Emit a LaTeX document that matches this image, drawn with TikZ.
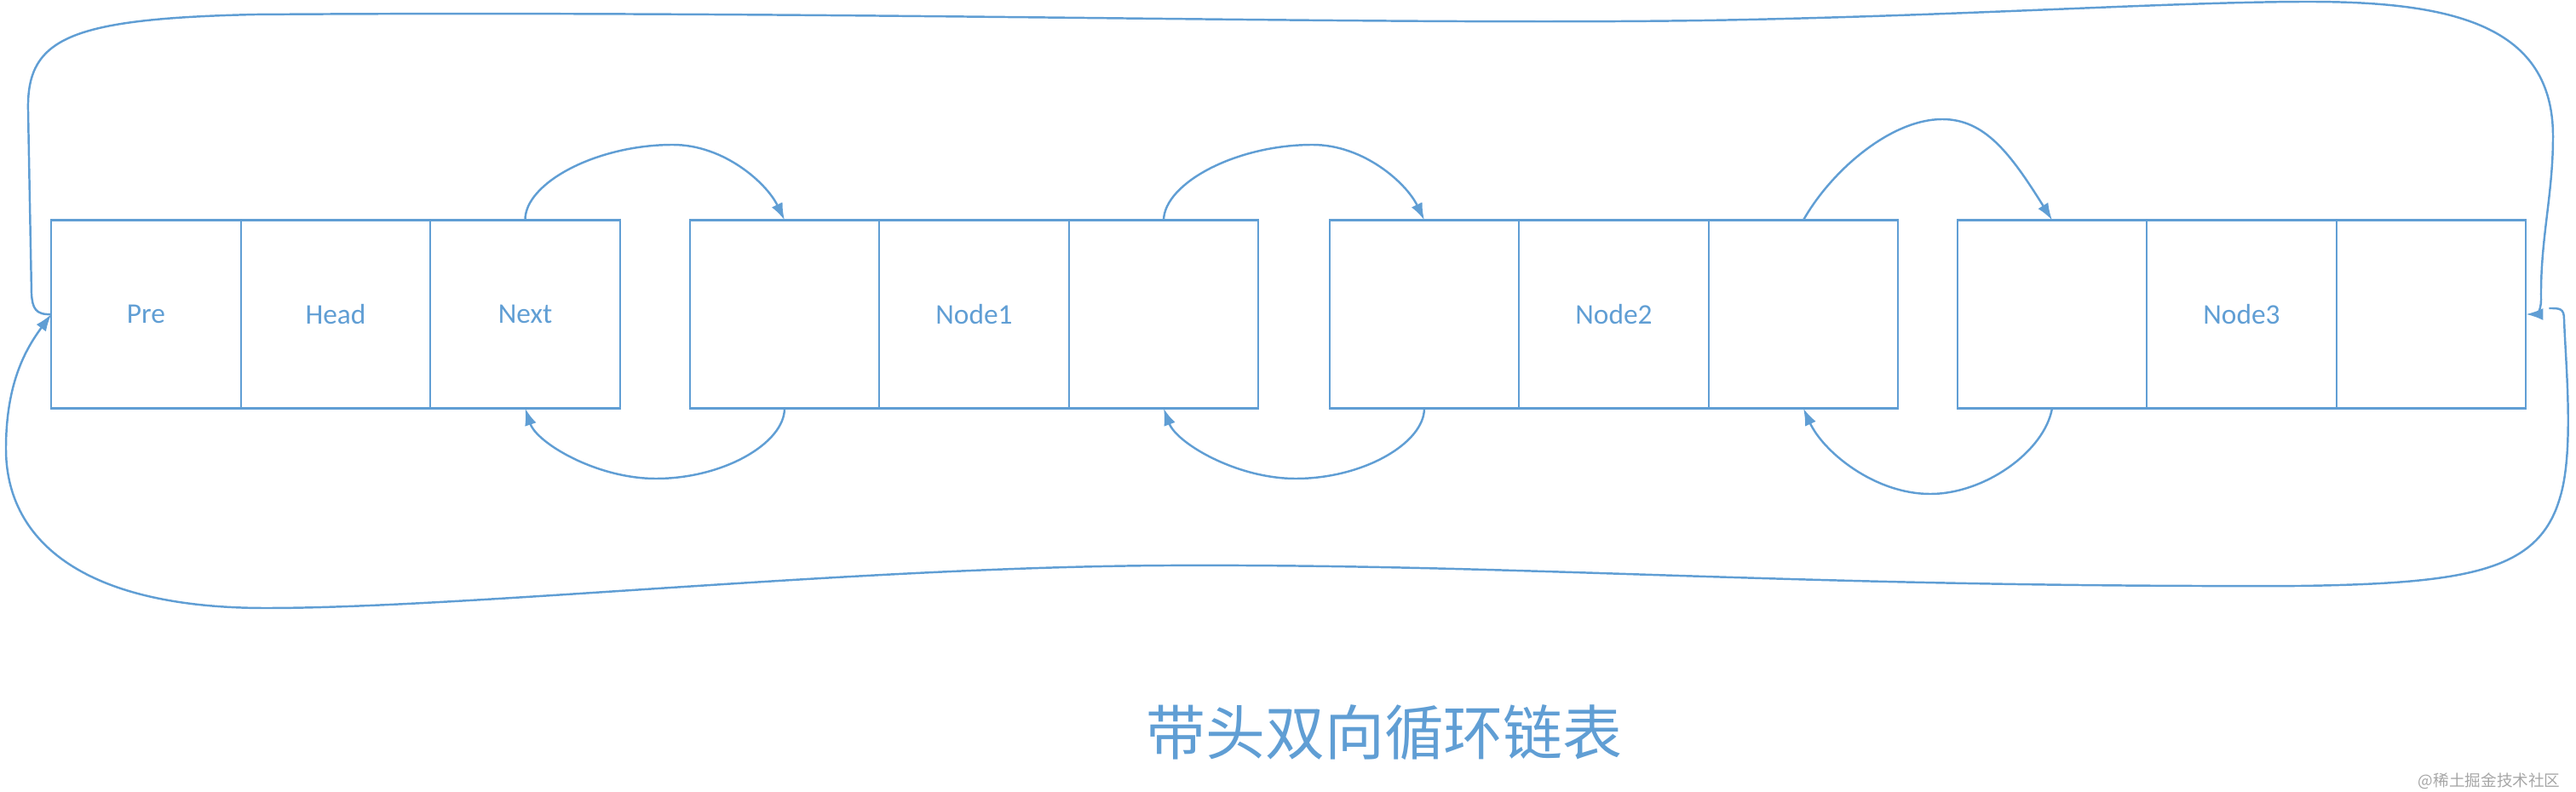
\documentclass[tikz,border=0pt]{standalone}
\usepackage{fontspec}
\setmainfont{Carlito}
\newfontfamily\cjkfont{Noto Sans CJK SC}
\usepackage{tikz}
\usetikzlibrary{arrows.meta, positioning}
\definecolor{linkblue}{RGB}{96,158,212}
\tikzstyle{cell} = [rectangle, draw=linkblue, line width=0.6pt, minimum width=2.225cm, minimum height=2.21cm, inner sep=0pt, outer sep=0pt, text=linkblue, font=\fontsize{9.5pt}{11pt}\selectfont]
\tikzstyle{link} = [->, >={Latex[length=0.2cm, width=0.14cm]}, draw=linkblue, line width=0.7pt]

\begin{document}
\begin{tikzpicture}
  \useasboundingbox (0,0) rectangle (30.24,-9.30);

  % Head
  \node[cell] (H1) at (1.715,-3.69) {Pre};
  \node[cell, right=0pt of H1] (H2) {Head};
  \node[cell, right=0pt of H2] (H3) {Next};

  % Node1
  \node[cell] (A1) at (9.21,-3.69) {};
  \node[cell, right=0pt of A1] (A2) {Node1};
  \node[cell, right=0pt of A2] (A3) {};

  % Node2
  \node[cell] (B1) at (16.72,-3.69) {};
  \node[cell, right=0pt of B1] (B2) {Node2};
  \node[cell, right=0pt of B2] (B3) {};

  % Node3
  \node[cell] (C1) at (24.09,-3.69) {};
  \node[cell, right=0pt of C1] (C2) {Node3};
  \node[cell, right=0pt of C2] (C3) {};

  % next
  \draw[link] (H3.north) .. controls (6.16,-2.15) and (7.0,-1.70) .. (7.9,-1.70)
    .. controls (8.5,-1.70) and (9.0,-2.15) .. (A1.north);
  \draw[link] (A3.north) .. controls (13.67,-2.15) and (14.51,-1.70) .. (15.41,-1.70)
    .. controls (16.01,-1.70) and (16.51,-2.15) .. (B1.north);
  \draw[link] (B3.north) .. controls (21.5,-2.0) and (22.2,-1.40) .. (22.8,-1.40)
    .. controls (23.3,-1.40) and (23.6,-1.8) .. (C1.north);

  % prev
  \draw[link] (A1.south) .. controls (9.21,-5.2) and (8.5,-5.62) .. (7.7,-5.62)
    .. controls (7.0,-5.62) and (6.3,-5.2) .. (H3.south);
  \draw[link] (B1.south) .. controls (16.72,-5.2) and (16.01,-5.62) .. (15.21,-5.62)
    .. controls (14.51,-5.62) and (13.81,-5.2) .. (A3.south);
  \draw[link] (C1.south) .. controls (24.0,-5.3) and (23.3,-5.8) .. (22.66,-5.8)
    .. controls (22.0,-5.8) and (21.4,-5.3) .. (B3.south);

  % 头尾相连
  \draw[link] (H1.west) .. controls (0.42,-3.70) and (0.38,-3.62) .. (0.37,-3.45)
    -- (0.33,-1.3)
    .. controls (0.31,-0.45) and (0.8,-0.22) .. (3.0,-0.17)
    .. controls (10,-0.12) and (16,-0.30) .. (20,-0.24)
    .. controls (23,-0.19) and (25.5,-0.02) .. (27.1,-0.02)
    .. controls (28.8,-0.02) and (29.97,-0.3) .. (29.97,-1.6)
    .. controls (29.97,-2.3) and (29.82,-2.8) .. (29.83,-3.52)
    .. controls (29.83,-3.68) and (29.75,-3.69) .. (C3.east);
  \draw[link] ([xshift=0.27cm, yshift=0.07cm]C3.east)
    .. controls (30.05,-3.62) and (30.10,-3.62) .. (30.10,-3.75)
    .. controls (30.12,-4.3) and (30.22,-5.3) .. (30.05,-5.85)
    .. controls (29.8,-6.7) and (29.0,-6.85) .. (27.0,-6.88)
    .. controls (21,-6.90) and (18,-6.62) .. (13.7,-6.64)
    .. controls (10,-6.66) and (5.5,-7.14) .. (3.12,-7.14)
    .. controls (0.9,-7.14) and (0.07,-6.3) .. (0.07,-5.27)
    .. controls (0.07,-4.5) and (0.3,-4.1) .. (H1.west);

  % 标题
  \node[text=linkblue, font=\cjkfont\fontsize{19.9pt}{24pt}\selectfont] (title) at (16.25,-8.60) {带头双向循环链表};
  \node[text=black!35, font=\cjkfont\fontsize{5.3pt}{6pt}\selectfont, anchor=east] (mark) at (30.18,-9.17) {@稀土掘金技术社区};
\end{tikzpicture}
\end{document}
